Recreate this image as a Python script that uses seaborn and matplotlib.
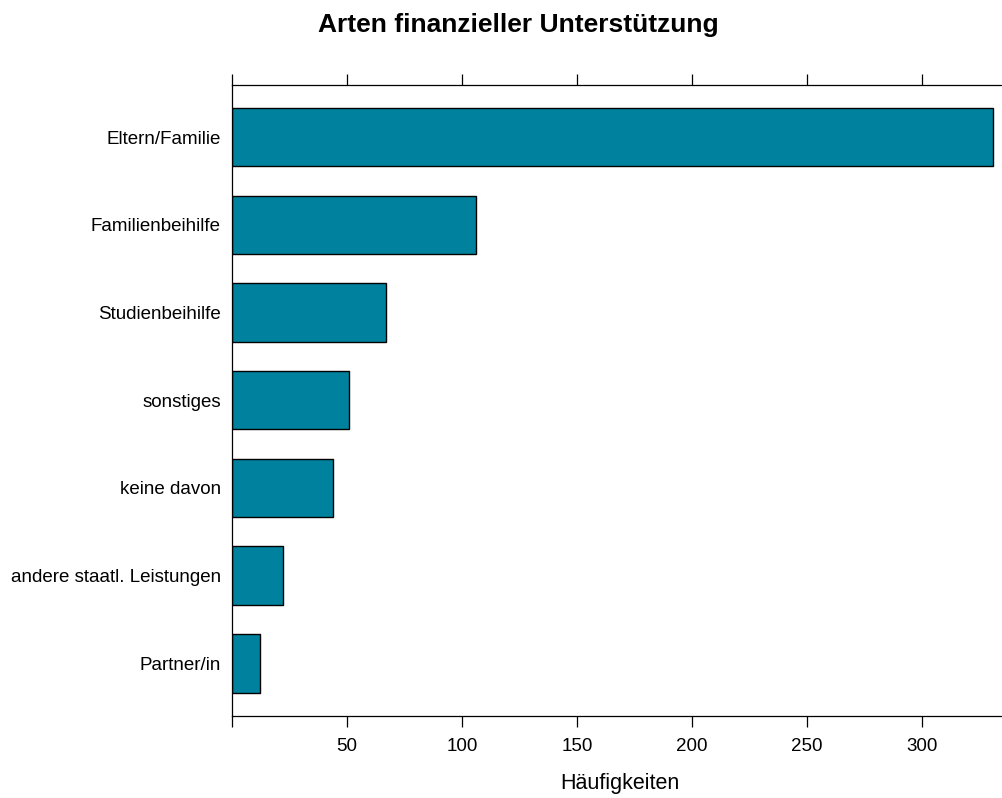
import matplotlib
matplotlib.use("Agg")
import matplotlib.pyplot as plt
import seaborn as sns
import pandas as pd

# Daten
kategorien = ["Eltern/Familie", "Familienbeihilfe", "Studienbeihilfe", "sonstiges",
              "keine davon", "andere staatl. Leistungen", "Partner/in"]
haeufigkeiten = [331, 106, 67, 51, 44, 22, 12]
x_ticks = [0, 50, 100, 150, 200, 250, 300]
x_tick_labels = ["", "50", "100", "150", "200", "250", "300"]

df = pd.DataFrame({"kategorie": kategorien, "haeufigkeit": haeufigkeiten})

sns.set_style("white")
plt.rcParams["font.family"] = ["Liberation Sans", "DejaVu Sans"]
plt.rcParams["text.color"] = "black"
plt.rcParams["xtick.color"] = "black"
plt.rcParams["ytick.color"] = "black"
plt.rcParams["axes.labelcolor"] = "black"

fig = plt.figure(figsize=(10.03, 7.98), dpi=100)
ax = fig.add_axes([232 / 1003, 1 - 716 / 798, 1 - 232 / 1003 + 0.005, (716 - 84.5) / 798])

sns.barplot(data=df, x="haeufigkeit", y="kategorie", order=kategorien,
            orient="h", color="#00829F", saturation=1, width=2 / 3,
            edgecolor="black", linewidth=1.0, ax=ax)

ax.set_xlim(0, 337.5)
ax.set_ylim(6.6, -0.6)

# Achsen im lattice-Stil: links, oben und unten
for s in ["left", "top", "bottom"]:
    ax.spines[s].set_visible(True)
    ax.spines[s].set_color("black")
    ax.spines[s].set_linewidth(0.9)
ax.spines["right"].set_visible(False)

ax.set_xticks(x_ticks)
ax.set_xticklabels(x_tick_labels)
ax.tick_params(axis="x", which="both", top=True, bottom=True, labeltop=False,
               labelbottom=True, direction="out", length=7.8, width=0.9,
               color="black", labelcolor="black", labelsize=13.5, pad=8)
ax.tick_params(axis="y", length=0, pad=8, labelsize=13.5, labelcolor="black")

ax.set_ylabel("")
ax.set_xlabel("Häufigkeiten", fontsize=15.5, labelpad=13, color="black")

fig.text(518 / 1003, 1 - 32 / 798, "Arten finanzieller Unterstützung",
         ha="center", va="baseline", fontsize=19, fontweight="bold", color="black")

fig.savefig("out.png", dpi=100)
plt.close(fig)
